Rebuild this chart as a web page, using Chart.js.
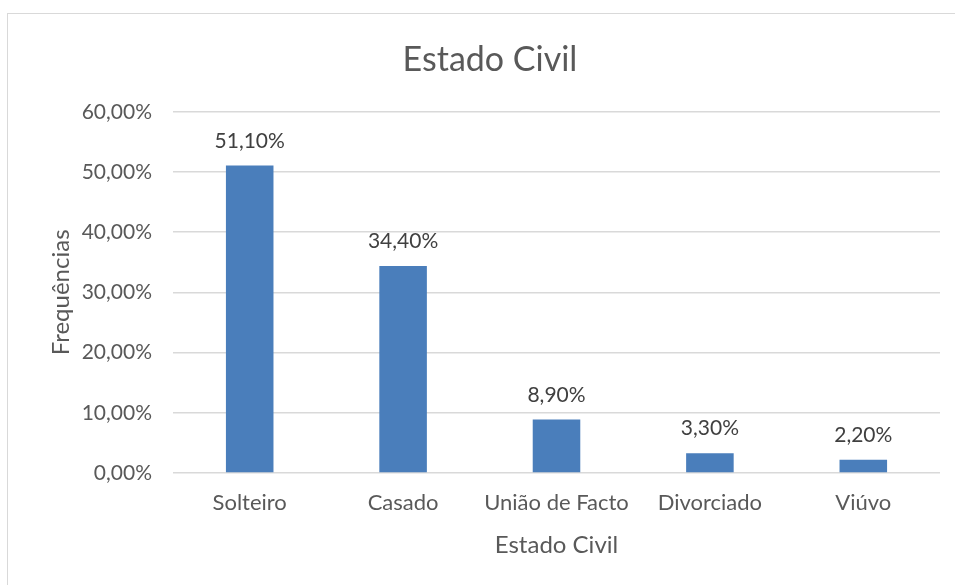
<!DOCTYPE html>
<html>
<head>
<meta charset="utf-8">
<script src="https://cdn.jsdelivr.net/npm/chart.js@4"></script>
<style>
  body { margin: 0; background: #fff; }
  #wrap { position: relative; width: 955px; height: 585px; }
  #frame { position: absolute; left: 7px; top: 13px; width: 960px; height: 600px; border: 1px solid #d9d9d9; }
  canvas { position: absolute; left: 0; top: 0; }
</style>
</head>
<body>
<div id="wrap">
  <div id="frame"></div>
  <canvas id="chart" width="955" height="585"></canvas>
</div>
<script>
// dados
const categorias = ['Solteiro', 'Casado', 'União de Facto', 'Divorciado', 'Viúvo'];
const frequencias = [51.1, 34.4, 8.9, 3.3, 2.2];
const tickMax = 60;
const tickStep = 10;

const fonte = 'Lato, "Open Sans", sans-serif';
const cinza = '#595959';

function pct(v) {
    return v.toFixed(2).replace('.', ',') + '%';
}

// desenha os valores por cima das barras
const rotulos = {
    id: 'rotulos',
    afterDatasetsDraw(chart) {
        const ctx = chart.ctx;
        const meta = chart.getDatasetMeta(0);
        ctx.save();
        ctx.font = '21px ' + fonte;
        ctx.fillStyle = '#404040';
        ctx.textAlign = 'center';
        ctx.textBaseline = 'bottom';
        meta.data.forEach((bar, i) => {
            ctx.fillText(pct(frequencias[i]), bar.x, bar.y - 14);
        });
        ctx.restore();
    }
};

const ctx = document.getElementById('chart').getContext('2d');
const myChart = new Chart(ctx, {
    type: 'bar',
    data: {
        labels: categorias,
        datasets: [{
            data: frequencias,
            backgroundColor: '#4a7ebb',
            categoryPercentage: 1,
            barPercentage: 0.31
        }]
    },
    options: {
        responsive: false,
        animation: false,
        layout: { padding: { left: 40, right: 15, top: 30, bottom: 25 } },
        plugins: {
            legend: { display: false },
            tooltip: { enabled: false },
            title: {
                display: true,
                text: 'Estado Civil',
                color: cinza,
                font: { family: fonte, size: 34, weight: 'normal' },
                padding: { top: 10, bottom: 31 }
            }
        },
        scales: {
            x: {
                grid: { display: false, drawTicks: false },
                border: { display: false },
                ticks: { color: cinza, font: { family: fonte, size: 22 }, padding: 17 },
                title: {
                    display: true,
                    text: 'Estado Civil',
                    color: cinza,
                    font: { family: fonte, size: 24 },
                    padding: { top: 4, bottom: 0 }
                },
                afterFit: s => { s.height = 87; }
            },
            y: {
                min: 0,
                max: tickMax,
                grid: { color: '#d9d9d9', lineWidth: 1.5, drawTicks: false },
                border: { display: false },
                ticks: {
                    stepSize: tickStep,
                    color: cinza,
                    font: { family: fonte, size: 21 },
                    padding: 21,
                    callback: v => pct(v)
                },
                title: {
                    display: true,
                    text: 'Frequências',
                    color: cinza,
                    font: { family: fonte, size: 24 },
                    padding: { top: 7, bottom: 0 }
                },
                afterFit: s => { s.width = 133; }
            }
        }
    },
    plugins: [rotulos]
});
</script>
</body>
</html>
